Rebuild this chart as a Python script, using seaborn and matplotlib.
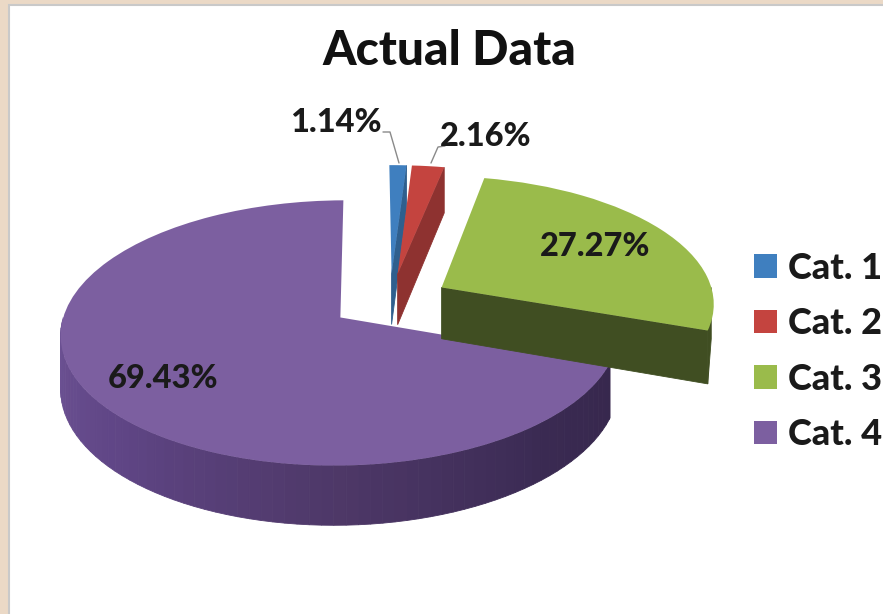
import numpy as np
import seaborn as sns
import matplotlib
matplotlib.use("Agg")
import matplotlib.pyplot as plt
from matplotlib.patches import Rectangle
from matplotlib.transforms import Transform

# 1. Chart data
categories = ["Cat. 1", "Cat. 2", "Cat. 3", "Cat. 4"]
shares = [1.14, 2.16, 27.27, 69.43]
title = "Actual Data"

top_colors = ["#3F7FBF", "#C4443F", "#9ABB4B", "#7C5FA0"]
wall_colors = ["#2F5F8E", "#8E3230", "#404E22", "#4A3560"]
purple_wall = ["#6F5496", "#5F4585", "#4E3868", "#3A2A52", "#35264A"]

# 2. Layout of the fake 3D pie, in picture pixels
center_x, center_y = 390, 301
radius_x, radius_y = 273, 127
tilt = 0.115
depth = 52
explode = 0.22
start_angle = 90.5


def project(x, y, z=0.0):
    scale = 1 + tilt * np.asarray(y)
    return (center_x + radius_x * np.asarray(x) / scale,
            center_y - radius_y * np.asarray(y) / scale + z / scale)


class PieProjection(Transform):
    input_dims = 2
    output_dims = 2
    is_affine = False

    def transform_non_affine(self, values):
        px, py = project(values[:, 0], values[:, 1])
        return np.column_stack([px, py])


def fill_wall(x, y, color, zorder):
    px, py = project(x, y)
    qx, qy = project(x, y, depth)
    ax.fill(np.r_[px, qx[::-1]], np.r_[py, qy[::-1]], color=color, lw=0.6, zorder=zorder)


def draw_arc_wall(wedge, theta_a, theta_b, color):
    a = np.radians(np.linspace(theta_a, theta_b, 2))
    fill_wall(wedge.center[0] + np.cos(a), wedge.center[1] + np.sin(a), color, wedge.get_zorder() - 0.1)


def draw_edge_wall(wedge, theta, color):
    a = np.radians(theta)
    x = np.array([wedge.center[0], wedge.center[0] + np.cos(a)])
    y = np.array([wedge.center[1], wedge.center[1] + np.sin(a)])
    fill_wall(x, y, color, wedge.get_zorder() - 0.1)


# 3. Figure and background
sns.set_theme(style="white")
plt.rcParams["font.family"] = ["Lato", "DejaVu Sans"]
plt.rcParams["font.weight"] = "bold"

fig = plt.figure(figsize=(8.83, 6.14), dpi=100, facecolor="#EBD9C6")
ax = fig.add_axes([0, 0, 1, 1])

# 4. Pie, exploded and flattened
wedges, _, pct_texts = ax.pie(shares, colors=top_colors, explode=[explode] * len(shares),
                              startangle=start_angle, counterclock=False, autopct="%.2f%%",
                              wedgeprops={"linewidth": 0})
ax.set_aspect("auto")
ax.set_xlim(0, 883)
ax.set_ylim(614, 0)
ax.axis("on")
ax.set_xticks([])
ax.set_yticks([])
for side in ax.spines.values():
    side.set_visible(False)
ax.set_facecolor("none")

ax.add_patch(Rectangle((9, 5), 880, 615, facecolor="white", edgecolor="#C9C9C9", lw=1.5, zorder=0))

projection = PieProjection()
draw_order = {0: 5, 1: 6, 2: 4, 3: 2}
for i, wedge in enumerate(wedges):
    wedge.set_transform(projection + ax.transData)
    wedge.set_zorder(draw_order[i] + 0.5)

# 5. Side walls, drawn just under each top face
ramp = sns.blend_palette(purple_wall, 80)
purple = wedges[3]
t1 = min(purple.theta1, purple.theta2)
t2 = max(purple.theta1, purple.theta2)
steps = np.linspace(-180, 0, 81)
for k in range(80):
    if steps[k + 1] <= t1 or steps[k] >= t2:
        continue
    draw_arc_wall(purple, max(steps[k], t1), min(steps[k + 1], t2), ramp[k])

for i in [0, 1, 2]:
    w = wedges[i]
    t1 = min(w.theta1, w.theta2)
    draw_edge_wall(w, t1, wall_colors[i])
    if t1 < 0:
        draw_arc_wall(w, t1, 0, wall_colors[i])

# 6. Percent labels
label_positions = [(336, 122), (486, 137), (595, 247), (163, 379)]
for text, pos in zip(pct_texts, label_positions):
    text.set_position(pos)
    text.set_fontsize(23.5)
    text.set_fontweight("black")
    text.set_color("#1A1A1A")
    text.set_ha("center")
    text.set_va("center")
    text.set_zorder(10)

ax.plot([383, 390, 399], [132, 132, 163], color="#8A8A8A", lw=1, zorder=9)
ax.plot([431, 438, 445], [163, 147, 146], color="#8A8A8A", lw=1, zorder=9)

# 7. Title and legend
ax.text(449, 51, title, fontsize=34.5, fontweight="black", color="#111111",
        ha="center", va="center", zorder=10)
legend = ax.legend(wedges, categories, loc="upper left", bbox_to_anchor=(754 / 883, 1 - 251.5 / 614),
                   frameon=False, fontsize=26, handlelength=0.63, handleheight=0.63,
                   handletextpad=0.3, labelspacing=0.625, borderpad=0, borderaxespad=0,
                   labelcolor="#1A1A1A")
for text in legend.get_texts():
    text.set_fontweight("black")

# 8. Save
fig.savefig("out.png", dpi=100, facecolor=fig.get_facecolor())
plt.close(fig)
